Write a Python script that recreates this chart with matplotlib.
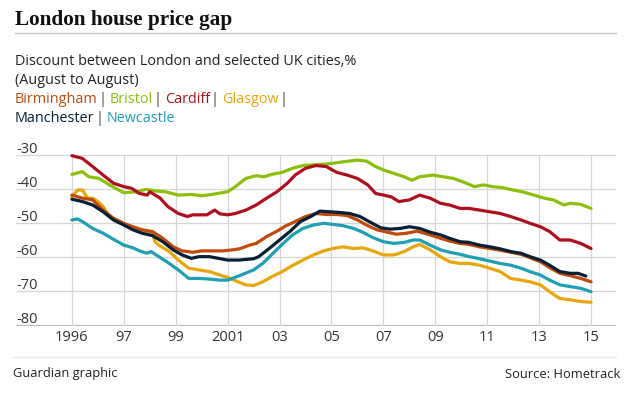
import matplotlib
matplotlib.use('Agg')
import matplotlib.pyplot as plt
from matplotlib.lines import Line2D

# Discount between London and selected UK cities, %
birmingham_x = [1995.0, 1995.41, 1995.8, 1996.2, 1996.6, 1997.0, 1997.35, 1997.7, 1998.1, 1998.5, 1998.9, 1999.25,
                1999.65, 2000.0, 2000.4, 2000.8, 2001.2, 2001.45, 2001.85, 2002.1, 2002.5, 2002.9, 2003.25, 2003.65,
                2004.0, 2004.4, 2004.8, 2005.2, 2005.6, 2006.0, 2006.35, 2006.75, 2007.15, 2007.5, 2007.9, 2008.3,
                2008.8, 2009.2, 2009.55, 2009.95, 2010.3, 2010.7, 2011.1, 2011.5, 2011.9, 2012.3, 2012.65, 2013.05,
                2013.4, 2013.8, 2014.2, 2014.6, 2015.0]
birmingham_y = [-41.8, -42.7, -43.2, -46.2, -48.6, -50.1, -51.1, -52.0, -52.5, -54.5, -57.0, -58.2,
                -58.6, -58.2, -58.2, -58.2, -57.9, -57.6, -56.5, -56.0, -54.0, -52.4, -50.8, -49.4,
                -48.1, -47.2, -47.5, -47.5, -47.8, -49.1, -50.6, -52.0, -52.7, -53.3, -53.0, -52.4,
                -53.5, -54.5, -55.3, -56.0, -56.3, -57.0, -57.5, -58.0, -58.6, -59.2, -60.2, -61.4,
                -63.1, -64.8, -65.5, -66.3, -67.3]

bristol_x = [1995.0, 1995.4, 1995.65, 1996.05, 1996.45, 1997.0, 1997.5, 1997.85, 1998.25, 1998.6, 1999.1, 1999.6,
             2000.0, 2000.4, 2001.0, 2001.3, 2001.7, 2002.1, 2002.4, 2002.7, 2003.1, 2003.5, 2003.9, 2004.3,
             2004.7, 2005.0, 2005.45, 2006.0, 2006.35, 2006.7, 2007.0, 2007.4, 2007.8, 2008.1, 2008.4, 2008.9,
             2009.3, 2009.7, 2010.1, 2010.5, 2010.85, 2011.2, 2011.6, 2012.0, 2012.4, 2012.8, 2013.2, 2013.55,
             2013.95, 2014.2, 2014.6, 2015.0]
bristol_y = [-35.7, -34.9, -36.4, -36.9, -38.8, -41.1, -40.8, -40.1, -40.6, -40.8, -41.8, -41.6,
             -42.0, -41.6, -40.8, -39.3, -36.9, -36.1, -36.4, -35.7, -35.1, -33.9, -33.1, -32.9,
             -32.7, -32.5, -32.0, -31.5, -31.8, -33.4, -34.4, -35.4, -36.4, -37.4, -36.4, -35.9,
             -36.4, -36.9, -38.0, -39.3, -38.8, -39.3, -39.6, -40.3, -40.9, -41.8, -42.7, -43.2,
             -44.7, -44.2, -44.5, -45.7]

cardiff_x = [1995.0, 1995.4, 1995.8, 1996.2, 1996.6, 1997.0, 1997.3, 1997.6, 1997.9, 1998.0, 1998.4, 1998.7,
             1999.1, 1999.45, 1999.65, 1999.9, 2000.2, 2000.5, 2000.7, 2001.0, 2001.3, 2001.7, 2002.1, 2002.5,
             2002.9, 2003.3, 2003.6, 2004.0, 2004.4, 2004.8, 2005.2, 2005.6, 2006.0, 2006.4, 2006.7, 2007.0,
             2007.3, 2007.6, 2008.0, 2008.4, 2008.8, 2009.2, 2009.55, 2009.95, 2010.3, 2010.7, 2011.1, 2011.5,
             2011.9, 2012.3, 2012.65, 2013.05, 2013.4, 2013.8, 2014.2, 2014.6, 2015.0]
cardiff_y = [-30.2, -31.0, -33.4, -35.9, -38.3, -39.3, -39.8, -41.3, -41.8, -40.8, -42.7, -45.2,
             -47.2, -48.1, -47.6, -47.6, -47.6, -46.2, -47.3, -47.6, -47.2, -46.2, -44.7, -42.7,
             -40.8, -38.3, -35.9, -33.9, -33.1, -33.4, -35.1, -35.9, -36.9, -38.8, -41.3, -41.8,
             -42.3, -43.7, -43.2, -41.8, -42.7, -44.2, -44.7, -45.7, -45.7, -46.2, -46.7, -47.2,
             -48.1, -49.1, -50.1, -51.1, -52.5, -55.0, -55.0, -56.0, -57.5]

glasgow_x = [1995.0, 1995.22, 1995.41, 1995.6, 1995.8, 1996.0, 1996.2, 1996.44, 1997.0, 1997.46, 1997.85, 1998.1,
             1998.2, 1998.35, 1998.75, 1999.1, 1999.5, 1999.9, 2000.3, 2000.7, 2001.0, 2001.4, 2001.7, 2002.0,
             2002.35, 2002.7, 2003.1, 2003.5, 2003.9, 2004.3, 2004.7, 2005.05, 2005.45, 2005.85, 2006.2, 2006.6,
             2007.0, 2007.4, 2007.8, 2008.15, 2008.4, 2008.8, 2009.2, 2009.55, 2009.95, 2010.3, 2010.7, 2011.1,
             2011.5, 2011.9, 2012.3, 2012.65, 2013.05, 2013.4, 2013.8, 2014.2, 2014.6, 2015.0]
glasgow_y = [-42.3, -40.3, -40.3, -42.7, -42.7, -43.7, -45.2, -48.1, -50.4, -51.6, -52.3, -53.0,
             -55.5, -56.5, -58.4, -60.9, -63.3, -63.8, -64.3, -65.3, -66.0, -67.3, -68.2, -68.4,
             -67.3, -65.8, -64.3, -62.5, -60.9, -59.4, -58.2, -57.5, -57.0, -57.5, -57.3, -58.2,
             -59.4, -59.4, -58.4, -57.0, -56.3, -57.9, -59.9, -61.4, -61.9, -61.9, -62.4, -63.3,
             -64.3, -66.3, -66.8, -67.3, -68.2, -70.2, -72.2, -72.6, -73.1, -73.3]

manchester_x = [1995.0, 1995.41, 1995.8, 1996.2, 1996.6, 1997.0, 1997.35, 1997.7, 1998.1, 1998.5, 1998.9, 1999.25,
                1999.6, 1999.9, 2000.3, 2000.65, 2001.0, 2001.45, 2002.0, 2002.2, 2002.6, 2003.0, 2003.4, 2003.8,
                2004.2, 2004.55, 2004.95, 2005.3, 2005.7, 2006.1, 2006.5, 2006.9, 2007.25, 2007.65, 2008.0, 2008.4,
                2008.8, 2009.2, 2009.55, 2009.95, 2010.3, 2010.7, 2011.1, 2011.5, 2011.9, 2012.3, 2012.65, 2013.05,
                2013.4, 2013.8, 2014.2, 2014.5, 2014.8]
manchester_y = [-43.0, -43.7, -44.7, -46.7, -49.1, -50.6, -52.0, -53.0, -53.7, -55.5, -57.9, -59.4,
                -60.4, -59.9, -59.9, -60.4, -60.9, -60.9, -60.5, -59.9, -57.5, -55.0, -52.5, -49.6,
                -48.1, -46.5, -46.7, -46.9, -47.2, -48.1, -49.8, -51.4, -51.8, -51.6, -51.1, -51.6,
                -52.7, -53.5, -54.5, -55.5, -55.7, -56.5, -57.0, -57.6, -58.4, -58.9, -59.9, -60.9,
                -62.4, -64.3, -64.8, -64.8, -65.6]

newcastle_x = [1995.0, 1995.22, 1995.41, 1995.8, 1996.2, 1996.6, 1997.0, 1997.35, 1997.6, 1997.9, 1998.05, 1998.35,
               1998.75, 1999.1, 1999.5, 1999.9, 2000.3, 2000.7, 2001.0, 2001.45, 2002.0, 2002.35, 2002.75, 2003.1,
               2003.5, 2003.9, 2004.3, 2004.7, 2005.05, 2005.45, 2005.85, 2006.2, 2006.6, 2007.0, 2007.4, 2007.8,
               2008.15, 2008.4, 2008.8, 2009.2, 2009.55, 2009.95, 2010.3, 2010.7, 2011.1, 2011.5, 2011.9, 2012.3,
               2012.65, 2013.05, 2013.4, 2013.8, 2014.2, 2014.6, 2015.0]
newcastle_y = [-49.1, -48.8, -49.6, -51.6, -53.0, -54.8, -56.5, -57.3, -58.2, -58.9, -58.4, -59.9,
               -61.9, -63.8, -66.3, -66.3, -66.5, -66.8, -66.8, -65.5, -63.8, -61.9, -58.9, -56.3,
               -53.5, -51.6, -50.6, -50.1, -50.4, -50.8, -51.6, -52.7, -54.3, -55.5, -56.0, -55.7,
               -55.0, -55.0, -56.5, -57.9, -58.6, -59.2, -59.9, -60.5, -61.2, -61.9, -62.4, -63.3,
               -64.3, -65.3, -66.8, -68.2, -68.7, -69.2, -70.2]

x_ticks = [1995, 1997, 1999, 2001, 2003, 2005, 2007, 2009, 2011, 2013, 2015]
x_labels = ['1996', '97', '99', '2001', '03', '05', '07', '09', '11', '13', '15']
y_ticks = [-30, -40, -50, -60, -70, -80]

colours = {
    'Birmingham': '#bf4a0c',
    'Bristol': '#8cbf0a',
    'Cardiff': '#ad0f1e',
    'Glasgow': '#e7a70a',
    'Manchester': '#061f35',
    'Newcastle': '#1f9fb3',
}

W, H = 627, 394
fig = plt.figure(figsize=(W / 100, H / 100), dpi=100)
fig.patch.set_facecolor('white')
sans = 'Open Sans'
fs = 10.4


def fx(px):
    return px / W


def fy(py):
    return 1 - py / H


# title and rule
fig.text(fx(15), fy(25), 'London house price gap', fontsize=15.3, fontweight='bold',
         family='Liberation Serif', color='#111111', va='baseline')
fig.add_artist(Line2D([fx(15), fx(616)], [fy(33), fy(33)], color='#c8c8c8', lw=1))

fig.text(fx(15), fy(65), 'Discount between London and selected UK cities,%', fontsize=fs,
         family=sans, color='#222222', va='baseline')
fig.text(fx(15), fy(84), '(August to August)', fontsize=fs, family=sans, color='#222222', va='baseline')

# coloured legend text, separated by grey bars
renderer = fig.canvas.get_renderer()


def legend_row(names, y, trailing):
    x = 15
    for i, name in enumerate(names):
        t = fig.text(fx(x), fy(y), name, fontsize=fs, family=sans, color=colours[name], va='baseline')
        x = t.get_window_extent(renderer).x1 + 0.7
        if i < len(names) - 1 or trailing:
            t = fig.text(fx(x), fy(y), '|', fontsize=fs, family=sans, color='#444444', va='baseline')
            x = t.get_window_extent(renderer).x1 + 3.3


legend_row(['Birmingham', 'Bristol', 'Cardiff', 'Glasgow'], 103, True)
legend_row(['Manchester', 'Newcastle'], 122, False)

# plot area
ax = fig.add_axes([fx(16), fy(326), fx(616) - fx(16), fy(150) - fy(326)])
ax.set_xlim(1995 - 56 / 26, 2015 + 25 / 26)
ax.set_ylim(-80 - 1 / 3.4, -30 + 5 / 3.4)
ax.axis('off')

for v in y_ticks:
    ax.axhline(v, color='#bdbdbd' if v == -80 else '#d6d6d6', lw=0.9, zorder=1)
    ax.text(0, v + 0.55, str(v), transform=ax.get_yaxis_transform(), fontsize=10.5,
            family=sans, color='#333333', va='baseline', ha='left')
for t, lab in zip(x_ticks, x_labels):
    ax.plot([t, t], [-80, -30], color='#d6d6d6', lw=0.9, zorder=1)
    ax.text(t, -83.6, lab, fontsize=10.5, family=sans, color='#333333', ha='center', va='center')

series = [
    ('Glasgow', glasgow_x, glasgow_y),
    ('Newcastle', newcastle_x, newcastle_y),
    ('Bristol', bristol_x, bristol_y),
    ('Birmingham', birmingham_x, birmingham_y),
    ('Cardiff', cardiff_x, cardiff_y),
    ('Manchester', manchester_x, manchester_y),
]
for name, xs, ys in series:
    ax.plot(xs, ys, color=colours[name], lw=2.3, solid_joinstyle='round', solid_capstyle='round',
            zorder=3, clip_on=False)

# footer
fig.add_artist(Line2D([fx(13), fx(616)], [fy(357), fy(357)], color='#e8e8e8', lw=1))
fig.text(fx(13), fy(374), 'Guardian graphic', fontsize=9.3, family=sans, color='#222222', va='center')
fig.text(fx(620), fy(374), 'Source: Hometrack', fontsize=9.3, family=sans, color='#222222',
         va='center', ha='right')

fig.savefig('out.png', dpi=100)
